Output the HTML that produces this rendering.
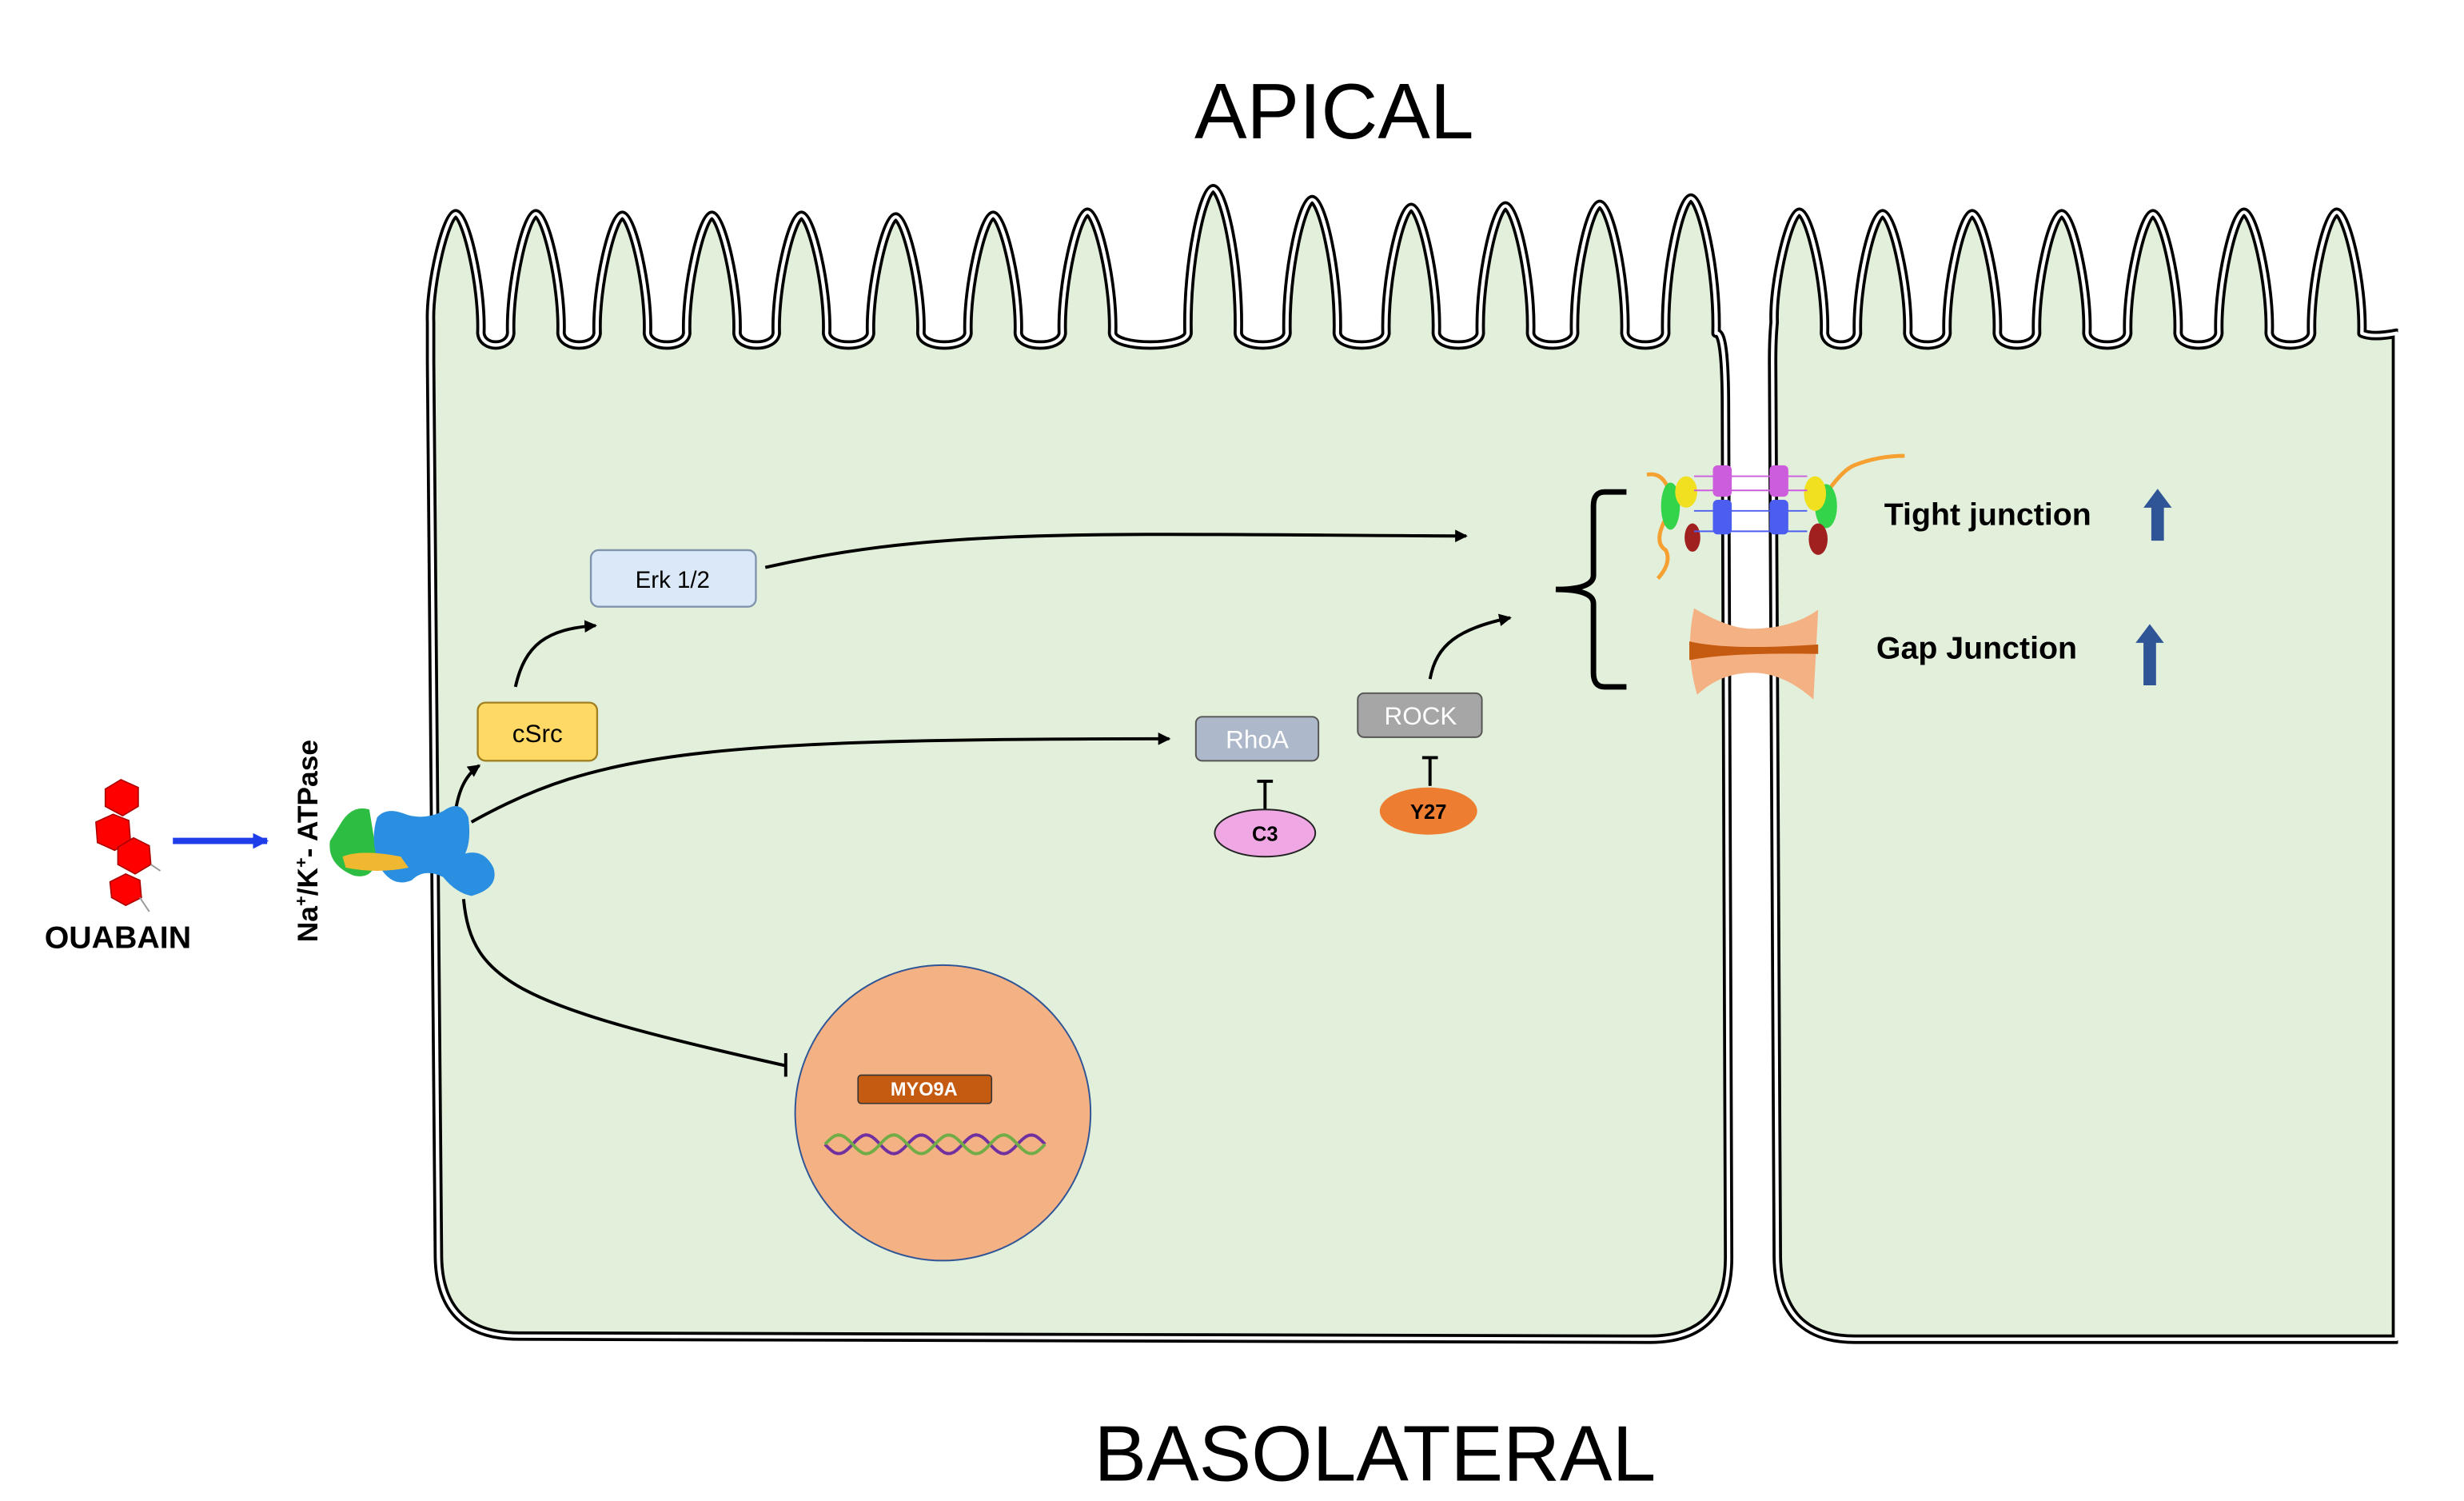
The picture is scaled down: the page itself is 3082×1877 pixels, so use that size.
<!DOCTYPE html>
<html><head><meta charset="utf-8"><style>
html,body{margin:0;padding:0;background:#fff;}
svg{display:block;}
text{font-family:"Liberation Sans",sans-serif;}
</style></head><body>
<svg id="s" width="3082" height="1877" viewBox="0 0 1541 938.5" xmlns="http://www.w3.org/2000/svg">
<defs>
<marker id="ah" markerWidth="8" markerHeight="8" refX="7" refY="4" orient="auto" markerUnits="userSpaceOnUse"><path d="M0,0 L8,4 L0,8 Z" fill="#000"/></marker>
<marker id="bh" markerWidth="10" markerHeight="10" refX="9" refY="5" orient="auto" markerUnits="userSpaceOnUse"><path d="M0,0 L10,5 L0,10 Z" fill="#1f3de8"/></marker>
</defs>
<rect width="1541" height="938.5" fill="#fff"/>
<g transform="scale(0.9828)">
<g id="cells"></g>
<text x="849" y="88" font-size="50" text-anchor="middle">APICAL</text>
<text x="875" y="942" font-size="50" text-anchor="middle">BASOLATERAL</text>

<g fill="none" stroke="#000" stroke-width="2">
<path d="M487 361 C600 335 700 340 933 341" marker-end="url(#ah)"/>
<path d="M328 437 C334 410 348 400 379 398" marker-end="url(#ah)"/>
<path d="M289 522 C291 505 295 494 305 487" marker-end="url(#ah)"/>
<path d="M300 523 C380 478 450 470 744 470" marker-end="url(#ah)"/>
<path d="M910 432 C914 410 928 400 961 393" marker-end="url(#ah)"/>
<path d="M295 572 C300 625 330 640 500 678"/>
<line x1="500" y1="670" x2="500" y2="685"/>
<line x1="805" y1="497" x2="805" y2="515"/>
<line x1="800" y1="497" x2="810" y2="497"/>
<line x1="910" y1="482" x2="910" y2="500"/>
<line x1="905" y1="482" x2="915" y2="482"/>
<path d="M1035 313 L1021 313 Q1014 313 1014 322 L1014 366 Q1014 375 990 375 Q1014 375 1014 384 L1014 428 Q1014 437 1021 437 L1035 437" stroke-width="3.5"/>
</g>

<rect x="376" y="350" width="105" height="36" rx="5" fill="#dae8f8" stroke="#7f93ad" stroke-width="1.2"/>
<text x="428" y="374" font-size="15" text-anchor="middle">Erk 1/2</text>
<rect x="304" y="447" width="76" height="37" rx="5" fill="#ffd966" stroke="#a08020" stroke-width="1.2"/>
<text x="342" y="472" font-size="16" text-anchor="middle">cSrc</text>
<rect x="761" y="456" width="78" height="28" rx="4" fill="#adb9ca" stroke="#555" stroke-width="1"/>
<text x="800" y="476" font-size="16" text-anchor="middle" fill="#fff">RhoA</text>
<rect x="864" y="441" width="79" height="28" rx="4" fill="#a6a6a6" stroke="#555" stroke-width="1"/>
<text x="904" y="461" font-size="16" text-anchor="middle" fill="#fff">ROCK</text>
<ellipse cx="805" cy="530" rx="32" ry="15" fill="#f0a8e4" stroke="#222" stroke-width="1"/>
<text x="805" y="535" font-size="13" font-weight="bold" text-anchor="middle">C3</text>
<ellipse cx="909" cy="516" rx="31" ry="15" fill="#ed7d31"/>
<text x="909" y="521" font-size="13" font-weight="bold" text-anchor="middle">Y27</text>

<circle cx="600" cy="708" r="94" fill="#f4b183" stroke="#2f5597" stroke-width="1"/>
<rect x="546" y="684" width="85" height="18" rx="2" fill="#c55a11" stroke="#333" stroke-width="0.8"/>
<text x="588" y="697" font-size="12" font-weight="bold" text-anchor="middle" fill="#fff">MYO9A</text>
<path id="dna1" fill="none" stroke="#7030a0" stroke-width="2"/>
<path id="dna2" fill="none" stroke="#70ad47" stroke-width="2"/>

<g fill="#f00" stroke="#a00" stroke-width="0.8">
<polygon points="77,496 88,501 88,513 78,519 67,513 67,502"/>
<polygon points="72,518 82,522 83,535 73,541 62,536 61,523"/>
<polygon points="85,533 95,538 96,550 86,556 75,550 75,539"/>
<polygon points="80,556 89,560 90,571 80,576 71,571 70,561"/>
</g>
<line x1="96" y1="550" x2="102" y2="554" stroke="#999"/>
<line x1="89" y1="571" x2="95" y2="580" stroke="#999"/>
<line x1="110" y1="535" x2="170" y2="535" stroke="#1f3de8" stroke-width="4" marker-end="url(#bh)"/>
<text x="75" y="603" font-size="20" font-weight="bold" text-anchor="middle">OUABAIN</text>
<text transform="translate(202,535) rotate(-90)" font-size="18" font-weight="bold" text-anchor="middle">Na<tspan dy="-7" font-size="11">+</tspan><tspan dy="7">/K</tspan><tspan dy="-7" font-size="11">+</tspan><tspan dy="7">- ATPase</tspan></text>

<path d="M218 522 Q225 512 235 515 L240 545 Q238 560 225 557 Q208 550 210 535 Z" fill="#2ebd43"/>
<path d="M240 520 Q246 513 258 518 Q270 522 282 516 Q293 508 298 520 Q300 535 296 543 Q308 540 314 552 Q318 565 300 570 Q290 568 282 558 Q270 552 262 560 Q250 565 242 552 Q235 535 240 520 Z" fill="#2a8fe0"/>
<path d="M218 545 Q230 540 255 545 L260 552 Q240 556 220 552 Z" fill="#f0b830"/>

<g fill="none" stroke="#f5a030" stroke-width="2.5">
<path d="M1048 302 Q1058 300 1062 312 Q1066 320 1060 330 Q1052 345 1060 350 Q1064 358 1055 368"/>
<path d="M1155 325 Q1170 300 1180 296 Q1195 290 1212 290"/>
</g>
<ellipse cx="1063" cy="322" rx="6" ry="15" fill="#33d44a"/>
<ellipse cx="1073" cy="313" rx="7" ry="10" fill="#f0e020"/>
<ellipse cx="1077" cy="342" rx="5" ry="9" fill="#a02020"/>
<ellipse cx="1162" cy="322" rx="7" ry="14" fill="#33d44a"/>
<ellipse cx="1155" cy="314" rx="7" ry="11" fill="#f0e020"/>
<ellipse cx="1157" cy="343" rx="6" ry="10" fill="#a02020"/>
<g fill="#cc5ddd"><rect x="1090" y="296" width="12" height="20" rx="3"/><rect x="1126" y="296" width="12" height="20" rx="3"/></g>
<g fill="#4c5ef0"><rect x="1090" y="318" width="12" height="22" rx="3"/><rect x="1126" y="318" width="12" height="22" rx="3"/></g>
<g stroke="#cc5ddd" fill="none"><line x1="1078" y1="303" x2="1150" y2="303"/><line x1="1078" y1="312" x2="1150" y2="312"/></g>
<g stroke="#4c5ef0" fill="none"><line x1="1078" y1="325" x2="1150" y2="325"/><line x1="1078" y1="338" x2="1150" y2="338"/></g>
<path d="M1078 387 Q1100 400 1115 400 Q1140 400 1157 388 L1154 445 Q1135 428 1115 428 Q1095 428 1080 442 Q1072 415 1078 387 Z" fill="#f4b183"/>
<path d="M1075 408 Q1100 414 1157 410 L1157 416 Q1100 415 1075 420 Z" fill="#c55a11"/>

<text x="1199" y="334" font-size="20" font-weight="bold">Tight junction</text>
<text x="1194" y="419" font-size="20" font-weight="bold">Gap Junction</text>
<path d="M1373 311 L1382 323 L1377 323 L1377 344 L1369 344 L1369 323 L1364 323 Z" fill="#2f5597"/>
<path d="M1368 397 L1377 409 L1372 409 L1372 436 L1364 436 L1364 409 L1359 409 Z" fill="#2f5597"/>
</g>
</svg>
<script>
function villi(peaks){
 var vy=212, d="";
 for(var i=0;i<peaks.length;i++){
  var c=peaks[i][0], p=peaks[i][1], w=16;
  var a=c-w, b=c+w;
  if(i==0){ d+="M"+a+","+vy; }
  d+=" C"+(a-1)+","+(p+45)+" "+(c-6)+","+p+" "+c+","+p;
  d+=" C"+(c+6)+","+p+" "+(b+1)+","+(p+45)+" "+b+","+vy;
  if(i<peaks.length-1){
   var na=peaks[i+1][0]-w;
   d+=" C"+(b+1)+","+(vy+10)+" "+(na-1)+","+(vy+10)+" "+na+","+vy;
  }
 }
 return d;
}
var p1=[[290,136],[341,136],[396,137],[453,137],[510,137],[570,138],[632,137],[692,135],[772,120],[835,127],[898,132],[958,131],[1018,130],[1076,126]];
var d1=villi(p1);
d1="M279,800 L274,230 Q274,215 "+(p1[0][0]-16)+",205 "+d1.slice(d1.indexOf("C"))+" Q1098,210 1098,260 L1100,800 Q1100,852 1050,852 L330,850 Q280,850 279,800 Z";
var p2=[[1145,135],[1198,136],[1255,136],[1312,136],[1370,136],[1428,135],[1487,135]];
var d2=villi(p2);
d2="M1131,800 L1128,230 Q1128,215 "+(p2[0][0]-16)+",205 "+d2.slice(d2.indexOf("C"))+" Q1510,215 1525,212 L1525,852 L1180,852 Q1132,852 1131,800 Z";
var g=document.getElementById("cells");
[d1,d2].forEach(function(d){
 g.innerHTML+='<path d="'+d+'" fill="#e2efda" stroke="#000" stroke-width="6" stroke-linejoin="round"/><path d="'+d+'" fill="none" stroke="#fff" stroke-width="2.2" stroke-linejoin="round"/>';
});
g.innerHTML+='<rect x="1526" y="0" width="40" height="960" fill="#fff"/>';
var s1="",s2="";
for(var x=525;x<=665;x+=2){var t=(x-525)/140*2*Math.PI*4;var y1=728+6*Math.sin(t);var y2=728-6*Math.sin(t);s1+=(x==525?"M":"L")+x+","+y1.toFixed(1)+" ";s2+=(x==525?"M":"L")+x+","+y2.toFixed(1)+" ";}
document.getElementById("dna1").setAttribute("d",s1);
document.getElementById("dna2").setAttribute("d",s2);
</script>
</body></html>
